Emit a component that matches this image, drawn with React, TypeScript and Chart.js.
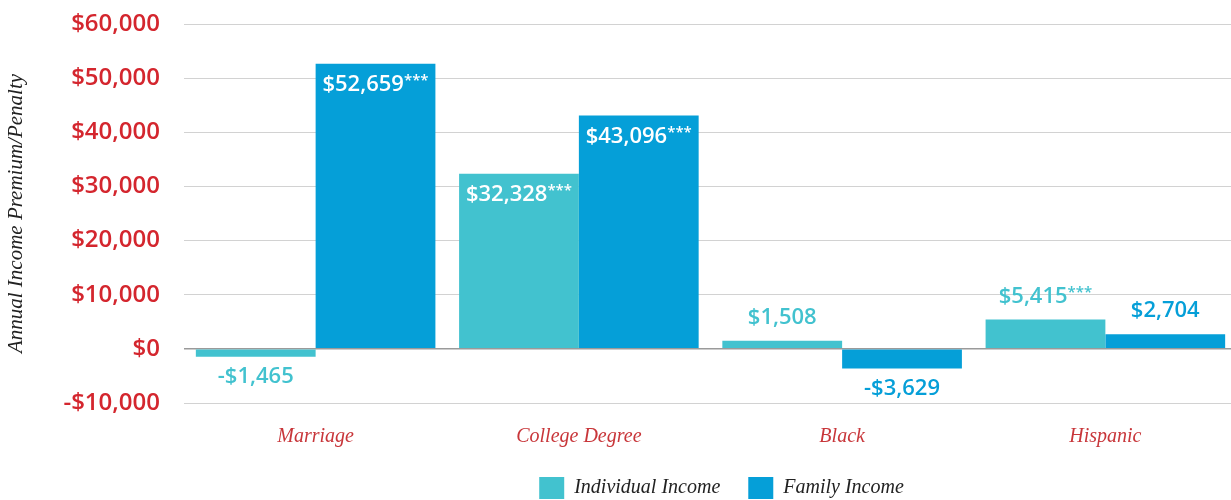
import React, { useEffect, useRef } from "react";
import { Chart, registerables } from "chart.js";

Chart.register(...registerables);

const categories = ["Marriage", "College Degree", "Black", "Hispanic"];
const individualIncome = [-1465, 32328, 1508, 5415];
const familyIncome = [52659, 43096, -3629, 2704];
const individualStars = [false, true, false, true];
const familyStars = [true, true, false, false];
const seriesNames = ["Individual Income", "Family Income"];
const yTicksMin = -10000;
const yTicksMax = 60000;
const yStep = 10000;

const CYAN = "#42c2cf";
const BLUE = "#059fd8";
const RED = "#d4262e";
const CAT_RED = "#c8363a";
const SANS = "'Open Sans', sans-serif";
const SERIF = "'Liberation Serif', serif";

const fmt = (v: number) =>
  (v < 0 ? "-" : "") + "$" + Math.abs(v).toLocaleString("en-US");

const barLabels = {
  id: "barLabels",
  afterDatasetsDraw(chart: any) {
    const ctx = chart.ctx;
    const starsAll = [individualStars, familyStars];
    const colors = [CYAN, BLUE];
    chart.data.datasets.forEach((ds: any, di: number) => {
      const meta = chart.getDatasetMeta(di);
      meta.data.forEach((bar: any, i: number) => {
        const v = ds.data[i] as number;
        const text = fmt(v);
        const stars = starsAll[di][i] ? "***" : "";
        const inside = Math.abs(v) > 20000;
        ctx.save();
        const mainFont = `600 22px ${SANS}`;
        const starFont = `600 15px ${SANS}`;
        ctx.font = mainFont;
        const w1 = ctx.measureText(text).width;
        ctx.font = starFont;
        const w2 = stars ? ctx.measureText(stars).width : 0;
        const x0 = bar.x - (w1 + w2) / 2;
        let y: number;
        if (inside) y = bar.y + 21;
        else if (v >= 0) y = bar.y - 23;
        else y = bar.y + 20;
        ctx.fillStyle = inside ? "#ffffff" : colors[di];
        ctx.textBaseline = "middle";
        ctx.textAlign = "left";
        ctx.font = mainFont;
        ctx.fillText(text, x0, y);
        if (stars) {
          ctx.font = starFont;
          ctx.fillText(stars, x0 + w1, y - 4);
        }
        ctx.restore();
      });
    });
  },
};

// plot area in the reference runs a few pixels past the right canvas edge
const layoutTweak = {
  id: "layoutTweak",
  afterLayout(chart: any) {
    const extra = 6;
    const xs = chart.scales.x;
    if (xs) {
      xs.right += extra;
      xs.width += extra;
      xs.configure();
    }
    chart.chartArea.right += extra;
    chart.chartArea.width += extra;
    if (chart.legend) {
      chart.legend.left += 28;
    }
  },
};

export default function App() {
  const ref = useRef<HTMLCanvasElement | null>(null);
  useEffect(() => {
    if (!ref.current) return;
    const chart = new Chart(ref.current, {
      type: "bar",
      data: {
        labels: categories,
        datasets: [
          {
            label: seriesNames[0],
            data: individualIncome,
            backgroundColor: CYAN,
            borderWidth: 0,
            categoryPercentage: 0.91,
            barPercentage: 1.0,
          },
          {
            label: seriesNames[1],
            data: familyIncome,
            backgroundColor: BLUE,
            borderWidth: 0,
            categoryPercentage: 0.91,
            barPercentage: 1.0,
          },
        ],
      },
      options: {
        responsive: false,
        animation: false,
        maintainAspectRatio: false,
        layout: { padding: { top: 24, right: 0, bottom: -9, left: 0 } },
        plugins: {
          tooltip: { enabled: false },
          legend: {
            position: "bottom",
            fullSize: false,
            labels: {
              boxWidth: 25,
              boxHeight: 22,
              padding: 28,
              color: "#222",
              font: { family: SERIF, size: 20, style: "italic" },
            },
          },
        },
        scales: {
          x: {
            grid: { display: false },
            border: { display: false },
            ticks: {
              color: CAT_RED,
              padding: 14,
              font: { family: SERIF, size: 20, style: "italic" },
            },
            afterFit: (s: any) => {
              s.height = 46;
            },
          },
          y: {
            min: yTicksMin,
            max: yTicksMax,
            border: { display: false },
            grid: {
              drawTicks: false,
              color: (c: any) => (c.tick && c.tick.value === 0 ? "#9a9a9a" : "#d2d2d2"),
              lineWidth: (c: any) => (c.tick && c.tick.value === 0 ? 1.5 : 1),
            },
            ticks: {
              stepSize: yStep,
              padding: 24,
              color: RED,
              font: { family: SANS, size: 24, weight: "600" },
              callback: (v: any) => fmt(Number(v)),
            },
            title: {
              display: true,
              text: "Annual Income Premium/Penalty",
              color: "#222",
              padding: { top: 4, bottom: 0 },
              font: { family: SERIF, size: 21, style: "italic" },
            },
            afterFit: (s: any) => {
              s.width = 184;
              s.paddingTop = 0;
              s.paddingBottom = 0;
            },
          },
        },
      },
      plugins: [barLabels, layoutTweak],
    });
    return () => chart.destroy();
  }, []);
  return (
    <div style={{ position: "absolute", left: 0, top: 0, width: 1231, height: 500, background: "#fff" }}>
      <canvas ref={ref} width={1231} height={500} style={{ width: 1231, height: 500 }} />
    </div>
  );
}
